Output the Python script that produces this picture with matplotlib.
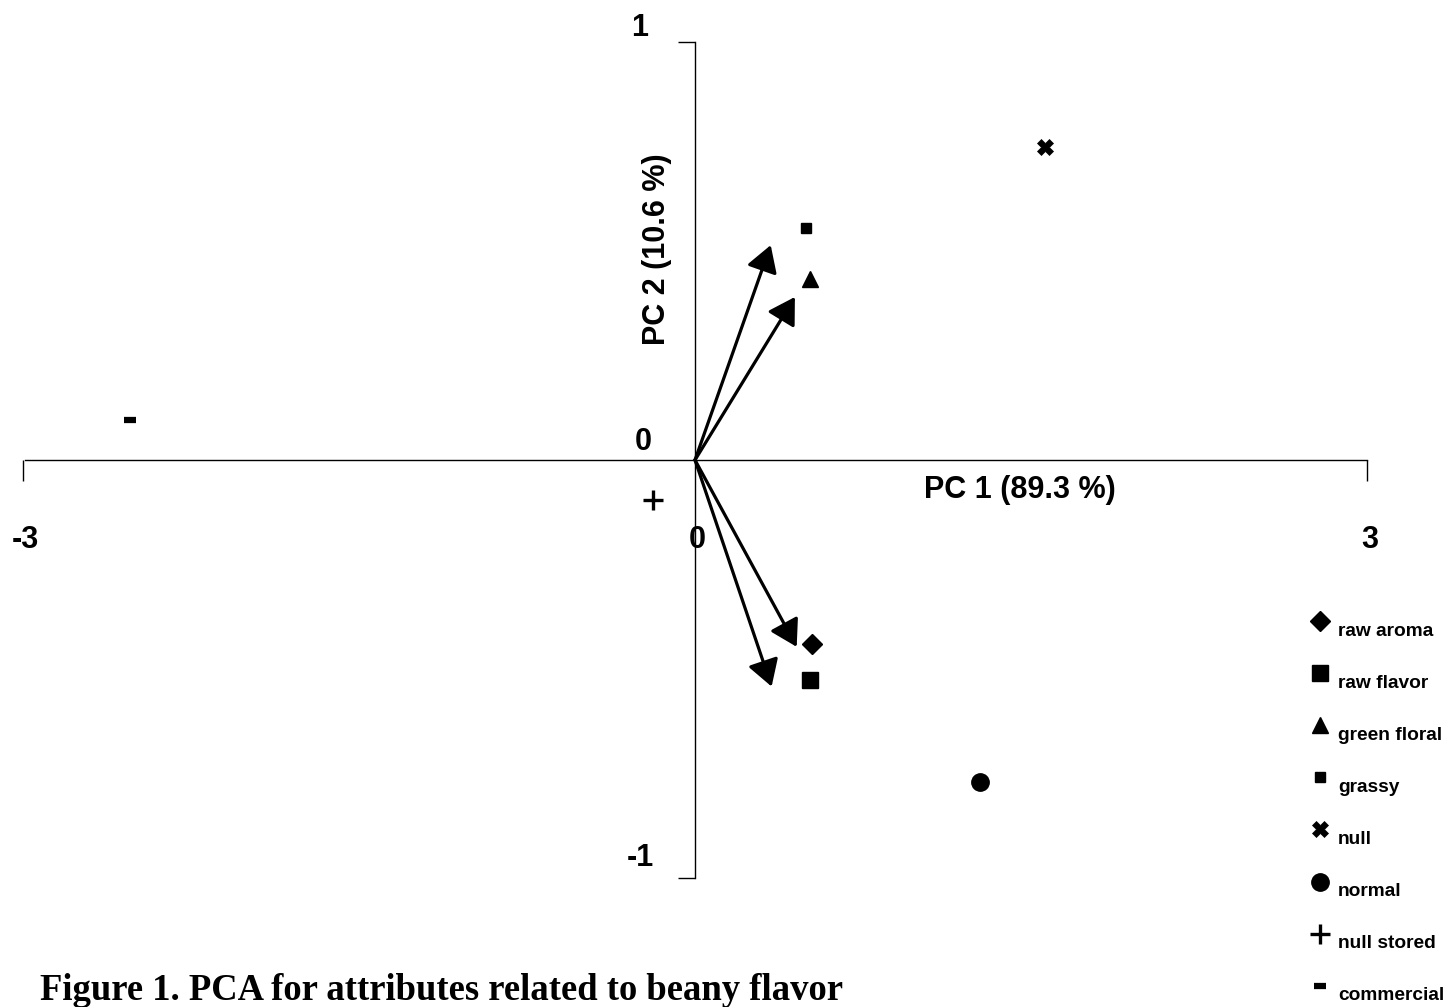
import matplotlib
matplotlib.use("Agg")
import matplotlib.pyplot as plt

# ---- data ----
attributes = ["raw aroma", "raw flavor", "green floral", "grassy"]
loading_x = [0.454, 0.342, 0.446, 0.338]      # arrow tips
loading_y = [-0.447, -0.542, 0.390, 0.514]
attr_x = [0.523, 0.513, 0.513, 0.496]         # attribute marker positions
attr_y = [-0.441, -0.526, 0.433, 0.555]

samples = ["null", "normal", "null stored", "commercial"]
sample_x = [1.563, 1.272, -0.189, -2.522]
sample_y = [0.750, -0.770, -0.096, 0.096]

legend_labels = attributes + samples
pc1_label = "PC 1 (89.3 %)"
pc2_label = "PC 2 (10.6 %)"
caption = "Figure 1. PCA for attributes related to beany flavor"

# ---- styles ----
W, H, DPI = 1453, 1007, 100
X0, Y0, SX, SY = 695.0, 460.0, 224.0, 418.0   # pixel origin and scale
sans = "Liberation Sans"
attr_styles = [dict(marker="D", ms=10), dict(marker="s", ms=11),
               dict(marker="^", ms=12), dict(marker="s", ms=6.5)]
sample_styles = [dict(marker="X", ms=11, mew=0.5), dict(marker="o", ms=12.5),
                 dict(marker="+", ms=14, mew=2.4), dict(marker="_", ms=8, mew=4.5)]

fig = plt.figure(figsize=(W / DPI, H / DPI), dpi=DPI)
ax = fig.add_axes([0, 0, 1, 1])
ax.set_xlim(-X0 / SX, (W - X0) / SX)
ax.set_ylim((Y0 - H) / SY, Y0 / SY)
ax.patch.set_alpha(0)

for s in ["top", "right"]:
    ax.spines[s].set_visible(False)
ax.spines["left"].set_position(("data", 0))
ax.spines["bottom"].set_position(("data", 0))
ax.spines["left"].set_bounds(-1, 1)
ax.spines["bottom"].set_bounds(-2.99, 3)
for s in ["left", "bottom"]:
    ax.spines[s].set_linewidth(1.0)
ax.set_xticks([-3, 3])
ax.set_yticks([-1, 1])
ax.tick_params(axis="x", direction="out", length=15, width=1.0, labelbottom=False)
ax.tick_params(axis="y", direction="out", length=12, width=1.0, labelleft=False)

tick_font = dict(family=sans, fontsize=22, fontweight="bold", ha="center", va="center")
ax.text(-0.246, 1.033, "1", **tick_font)
ax.text(-0.232, 0.043, "0", **tick_font)
ax.text(-0.246, -0.952, "-1", **tick_font)
ax.text(-2.991, -0.191, "-3", **tick_font)
ax.text(0.009, -0.191, "0", **tick_font)
ax.text(3.013, -0.191, "3", **tick_font)

ax.text(1.451, -0.072, pc1_label, family=sans, fontsize=22, fontweight="bold",
        ha="center", va="center")
ax.text(-0.170, 0.505, pc2_label, family=sans, fontsize=22, fontweight="bold",
        ha="center", va="center", rotation=90)

# arrows
for lx, ly in zip(loading_x, loading_y):
    ax.annotate("", xy=(lx, ly), xytext=(0, 0),
                arrowprops=dict(arrowstyle="-|>,head_length=0.4,head_width=0.24",
                                mutation_scale=40, lw=2.3, color="black",
                                shrinkA=0, shrinkB=0))

for x, y, st in zip(attr_x, attr_y, attr_styles):
    ax.plot([x], [y], linestyle="none", color="black", **st)
for x, y, st in zip(sample_x, sample_y, sample_styles):
    ax.plot([x], [y], linestyle="none", color="black", **st)

# legend (marker above-left of its label)
lax = fig.add_axes([0, 0, 1, 1])
lax.set_xlim(0, W)
lax.set_ylim(H, 0)
lax.axis("off")
lax.patch.set_alpha(0)
for i, (lab, st) in enumerate(zip(legend_labels, attr_styles + sample_styles)):
    yy = 621 + 52.1 * i
    lax.plot([1320], [yy], linestyle="none", color="black", **st)
    lax.text(1338, yy + 10, lab, family=sans, fontsize=13.8, fontweight="bold",
             ha="left", va="center")

fig.text(40 / W, 1 - 990 / H, caption, family="Liberation Serif", fontsize=26.4,
         fontweight="bold", ha="left", va="center")

fig.savefig("out.png", dpi=DPI)
